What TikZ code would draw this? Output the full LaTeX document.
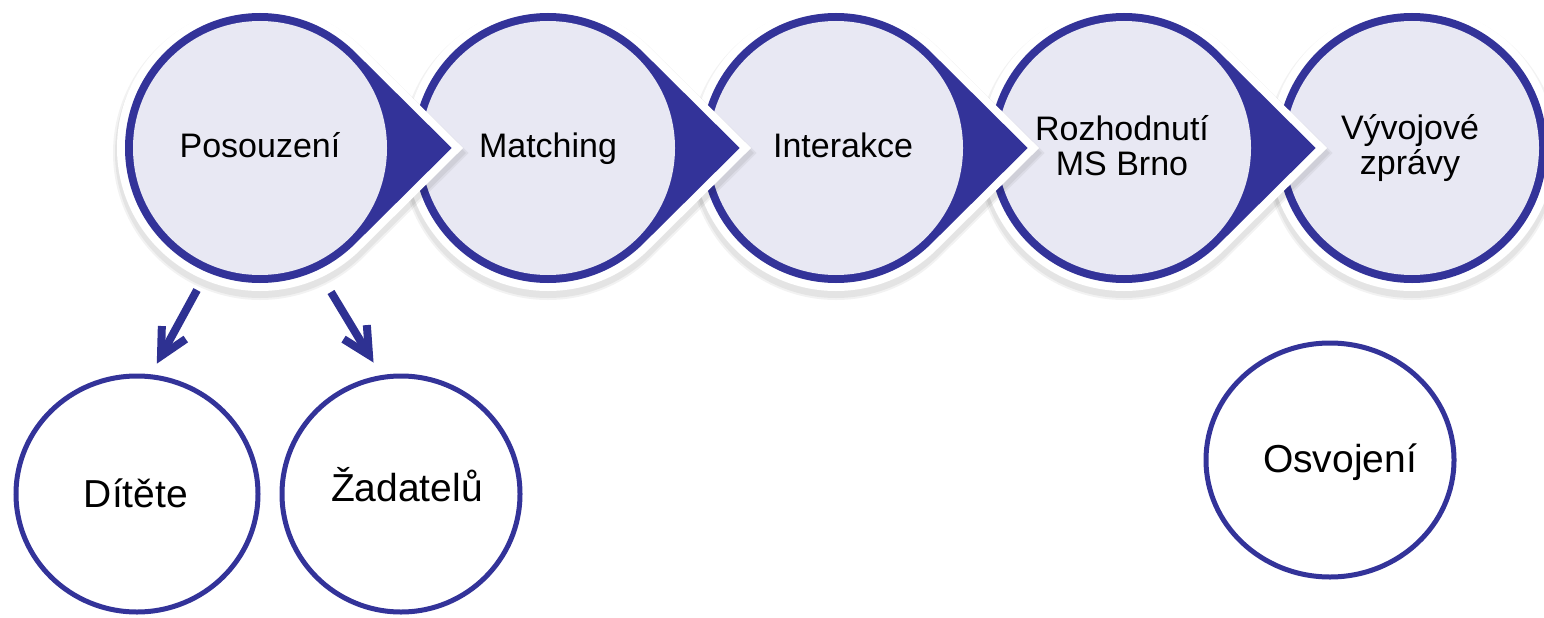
\documentclass[tikz,border=0pt]{standalone}
\usepackage{fontspec}
\setmainfont{Liberation Sans}
\usetikzlibrary{calc,shapes.geometric}
\definecolor{ringblue}{RGB}{51,51,153}
\definecolor{arrblue}{RGB}{46,49,146}
\definecolor{lav}{RGB}{232,232,243}
\newcommand\droppath[1]{(#1+186,148) -- ($(#1,148)+(45:131)$) arc[start angle=45,end angle=315,radius=131] -- cycle}
\tikzset{
  shadeA/.style={draw=black, opacity=0.05, line width=32pt, line join=miter, miter limit=10},
  shadeB/.style={draw=black, opacity=0.06, line width=28pt, line join=miter, miter limit=10},
  halo/.style={draw=white, fill=white, line width=24pt, line join=miter, miter limit=10},
  ring/.style={draw=ringblue, fill=ringblue, line width=8pt, line join=miter, miter limit=10},
  innerfill/.style={fill=lav},
  toptext/.style={font=\fontsize{34}{35}\selectfont, align=center, anchor=base, inner sep=0pt},
  bottext/.style={font=\fontsize{39}{40}\selectfont, anchor=base, inner sep=0pt},
  botring/.style={draw=ringblue, line width=5pt, ellipse, fill=white, inner sep=0pt},
  conn/.style={draw=arrblue, line width=8pt, line join=miter, miter limit=10},
}
\begin{document}
\begin{tikzpicture}[x=1pt,y=-1pt]
\useasboundingbox (0,0) rectangle (1544,618);
\clip (0,0) rectangle (1544,618);
% last circle (no tip)
\begin{scope}[yshift=-5pt]
  \path[shadeA] (1412,148) circle[radius=131];
  \path[shadeB] (1412,148) circle[radius=131];
\end{scope}
\path[halo] (1412,148) circle[radius=131];
\path[ring] (1412,148) circle[radius=131];
\path[innerfill] (1412,148) circle[radius=127];
% drops, back to front
\foreach \cx in {1124,836,548,260}{
  \begin{scope}[yshift=-5pt]
    \path[shadeA] \droppath{\cx};
    \path[shadeB] \droppath{\cx};
  \end{scope}
  \path[halo] \droppath{\cx};
  \path[ring] \droppath{\cx};
  \path[innerfill] (\cx,148) circle[radius=127];
}
% top texts
\node[toptext] (t1) at (260,157) {Posouzení};
\node[toptext] (t2) at (548,157) {Matching};
\node[toptext] (t3) at (843,157) {Interakce};
\node[toptext] (t4) at (1122,175) {Rozhodnutí\\MS Brno};
\node[toptext] (t5) at (1410,174) {Vývojové\\zprávy};
% bottom circles
\node[botring, minimum width=242pt, minimum height=236pt] (d1) at (137,494) {};
\node[botring, minimum width=238pt, minimum height=236pt] (d2) at (401,494) {};
\node[botring, minimum width=248pt, minimum height=234pt] (d3) at (1330,460) {};
\node[bottext] (d1t) at (136,507) {Dítěte};
\node[bottext] (d2t) at (407,501) {Žadatelů};
\node[bottext] (d3t) at (1340,472) {Osvojení};
% arrows
\coordinate (a1s) at (197,290);
\coordinate (a1e) at (161,356);
\coordinate (a2s) at (331,292);
\coordinate (a2e) at (369,355);
\draw[conn] (a1s) -- (a1e);
\draw[conn] ($(a1e)!30pt!27:(a1s)$) -- (a1e) -- ($(a1e)!30pt!-27:(a1s)$);
\draw[conn] (a2s) -- (a2e);
\draw[conn] ($(a2e)!30pt!27:(a2s)$) -- (a2e) -- ($(a2e)!30pt!-27:(a2s)$);
\end{tikzpicture}
\end{document}
